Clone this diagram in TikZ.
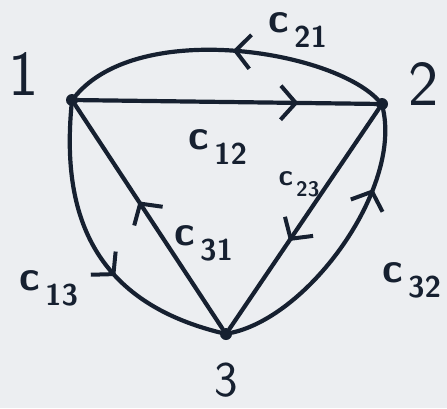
\documentclass[tikz,border=0pt]{standalone}
\usetikzlibrary{decorations.markings,arrows.meta}
\definecolor{paper}{RGB}{236,238,241}
\definecolor{ink}{RGB}{22,32,48}
\newcommand\clab[1]{{\fontsize{42}{42}\selectfont c}\hspace{0.15em}\raisebox{-0.5em}{#1}}
\begin{document}
\begin{tikzpicture}[x=1pt,y=-1pt,
  edge/.style={draw=ink,line width=4.2pt,line cap=round},
  mid/.style={postaction={decorate},decoration={markings,
     mark=at position #1 with {\arrow{Straight Barb[length=15pt,width=34pt,line width=4pt]}}}},
  vert/.style={circle,fill=ink,inner sep=0pt,minimum size=12pt},
  num/.style={font=\fontsize{64}{64}\sffamily, text=ink, inner sep=0pt},
  lab/.style={font=\fontsize{30}{30}\sffamily\bfseries, text=ink, inner sep=0pt},
  smalllab/.style={font=\fontsize{30}{30}\sffamily\bfseries, text=ink, inner sep=0pt, scale=0.7}]
\fill[paper] (0,0) rectangle (447,408);
\useasboundingbox (0,0) rectangle (447,408);

\node[vert] (n1) at (72,100) {};
\node[vert] (n2) at (382,104) {};
\node[vert] (n3) at (226,334) {};

\node[num] (t1) at (24,74) {1};
\node[num] (t2) at (424,84) {2};
\node[num, font=\fontsize{50}{50}\sffamily] (t3) at (226,380) {3};

% edges
\draw[edge,mid=0.48] (n2) .. controls (330,50) and (140,20) .. (n1);
\draw[edge,mid=0.74] (n1) -- (n2);
\draw[edge,mid=0.57] (n3) -- (n1);
\draw[edge,mid=0.6] (n2) -- (n3);
\draw[edge,mid=0.6] (n1) .. controls (62,210) and (90,300) .. (n3);
\draw[edge,mid=0.72] (n3) .. controls (310,315) and (400,190) .. (n2);

% labels
\node[lab] (l21) at (298,30) {\clab{21}};
\node[lab] (l12) at (218,147) {\clab{12}};
\node[smalllab] (l23) at (299,184) {\clab{23}};
\node[lab] (l31) at (204,243) {\clab{31}};
\node[lab] (l13) at (49,288) {\clab{13}};
\node[lab] (l32) at (412,280) {\clab{32}};
\end{tikzpicture}
\end{document}
